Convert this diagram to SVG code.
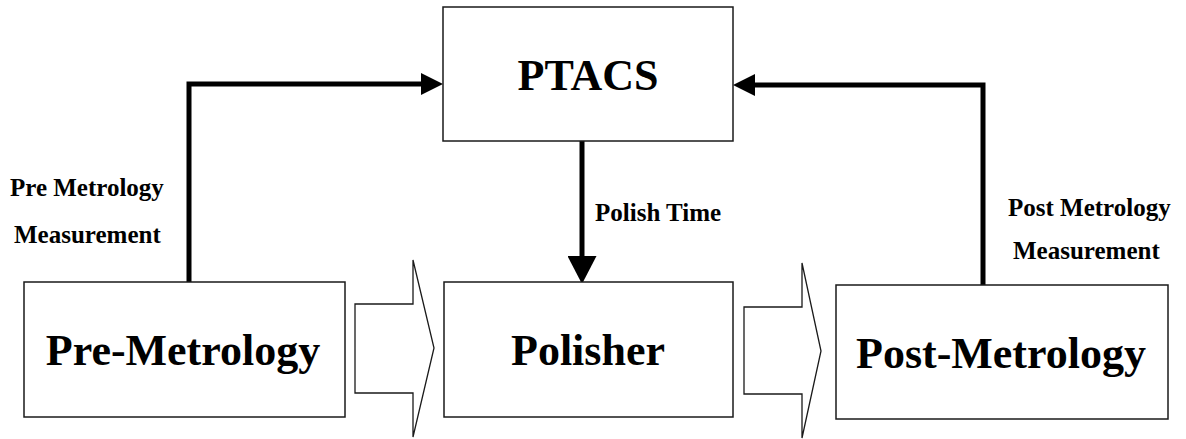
<svg xmlns="http://www.w3.org/2000/svg" width="1186" height="439" viewBox="0 0 1186 439">
  <style>
    .box { fill: #fff; stroke: #1a1a1a; stroke-width: 1.5; }
    .big { font-family: "Liberation Serif", "Times New Roman", serif; font-weight: bold; font-size: 44px; fill: #000; text-anchor: middle; }
    .lbl { font-family: "Liberation Serif", "Times New Roman", serif; font-weight: bold; font-size: 25px; fill: #000; }
    .wire { fill: none; stroke: #000; stroke-width: 5; }
    .flow { fill: #fff; stroke: #1a1a1a; stroke-width: 1.3; stroke-linejoin: miter; }
  </style>
  <defs>
    <marker id="head" viewBox="0 0 22 22" refX="0" refY="11" markerWidth="22" markerHeight="22" markerUnits="userSpaceOnUse" orient="auto">
      <path d="M0,0 L22,11 L0,22 z" fill="#000"/>
    </marker>
    <marker id="headLg" viewBox="0 0 28 29" refX="0" refY="14.5" markerWidth="28" markerHeight="29" markerUnits="userSpaceOnUse" orient="auto">
      <path d="M0,0 L28,14.5 L0,29 z" fill="#000"/>
    </marker>
  </defs>

  <rect width="1186" height="439" fill="#fff"/>

  <!-- feedback and control connectors -->
  <g id="connectors">
    <path class="wire" d="M189,282 V84 H421" stroke-linejoin="miter" marker-end="url(#head)"/>
    <path class="wire" d="M983,285 V85 H755" stroke-linejoin="miter" marker-end="url(#head)"/>
    <path class="wire" d="M582,141 V256" marker-end="url(#headLg)"/>
    <!-- hollow process-flow arrows -->
    <path class="flow" d="M355,304 H413 V260 L434,348 L413,437 V393 H355 Z"/>
    <path class="flow" d="M744,307 H802 V263 L821,351 L802,438 V394 H744 Z"/>
    <text class="lbl" x="10" y="196">Pre Metrology</text>
    <text class="lbl" x="14" y="243">Measurement</text>
    <text class="lbl" x="595" y="221">Polish Time</text>
    <text class="lbl" x="1008" y="216">Post Metrology</text>
    <text class="lbl" x="1013" y="259">Measurement</text>
  </g>

  <g id="ptacs">
    <rect class="box" x="443" y="7" width="290" height="134"/>
    <text class="big" x="588" y="90">PTACS</text>
  </g>

  <g id="pre-metrology">
    <rect class="box" x="24" y="282" width="321" height="135"/>
    <text class="big" x="183" y="365">Pre-Metrology</text>
  </g>

  <g id="polisher">
    <rect class="box" x="444" y="282" width="289" height="135"/>
    <text class="big" x="588" y="365">Polisher</text>
  </g>

  <g id="post-metrology">
    <rect class="box" x="836" y="285" width="332" height="134"/>
    <text class="big" x="1001" y="368">Post-Metrology</text>
  </g>
</svg>
